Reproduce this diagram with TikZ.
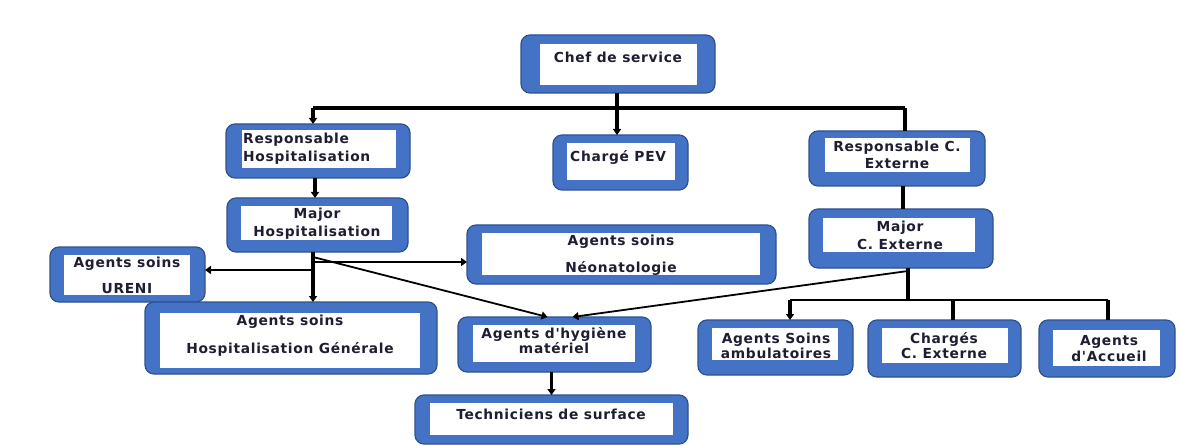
\documentclass[tikz,border=0pt]{standalone}
\usepackage{fontspec}
\setmainfont{DejaVu Sans}
\newfontfamily\boxfont{DejaVu Sans}[LetterSpace=5]
\usetikzlibrary{arrows.meta,calc}
\definecolor{boxblue}{HTML}{4472C4}
\definecolor{boxedge}{HTML}{2F528F}
\definecolor{txtc}{HTML}{1E1E32}
\newcommand\orgbox[9]{%
  \node[obox, minimum width={(#4)-(#2)}, minimum height={(#5)-(#3)}] (#1) at ({((#2)+(#4))/2},{((#3)+(#5))/2}) {};
  \node[ibox, minimum width={(#8)-(#6)}, minimum height={(#9)-(#7)}] (#1i) at ({((#6)+(#8))/2},{((#7)+(#9))/2}) {};
}
\newcommand\fs[1]{\boxfont\bfseries\fontsize{13.8}{#1}\selectfont}
\tikzset{
  obox/.style={draw=boxedge, line width=1.2pt, fill=boxblue, rounded corners=9pt, inner sep=0pt, outer sep=0pt},
  ibox/.style={fill=white, draw=none, inner sep=0pt, outer sep=0pt},
  lbl/.style={text=txtc, font=\fs{18}, inner sep=0pt, align=center},
  tip/.style={-{Triangle[length=6pt,width=8pt]}},
  heavy/.style={line width=4.5pt},
  medium/.style={line width=3.2pt},
  light/.style={line width=2.3pt},
  thinl/.style={line width=1.8pt},
}
\begin{document}
\begin{tikzpicture}[x=1pt,y=-1pt]
\useasboundingbox (0,0) rectangle (1182,446);
\fill[white] (0,0) rectangle (1182,446);

% boxes
\orgbox{chef}{521}{35}{715}{93}{540}{44}{697}{85}
\orgbox{rh}{226}{124}{410}{178}{242}{130}{396}{168}
\orgbox{pev}{553}{135}{688}{190}{567}{143}{675}{180}
\orgbox{rce}{809}{131}{985}{186}{825}{138}{970}{172}
\orgbox{mce}{809}{209}{993}{268}{823}{218}{975}{252}
\orgbox{mh}{227}{198}{408}{252}{241}{206}{392}{240}
\orgbox{ureni}{50}{247}{205}{302}{64}{255}{190}{295}
\orgbox{neo}{467}{225}{776}{284}{482}{233}{760}{275}
\orgbox{hg}{145}{302}{437}{374}{160}{313}{420}{368}
\orgbox{hyg}{458}{317}{651}{372}{473}{325}{635}{362}
\orgbox{tech}{415}{395}{688}{444}{430}{403}{673}{435}
\orgbox{amb}{698}{320}{853}{375}{712}{328}{838}{360}
\orgbox{chg}{868}{320}{1021}{377}{882}{328}{1008}{363}
\orgbox{acc}{1039}{320}{1175}{377}{1053}{330}{1160}{366}

% labels
\node[lbl] (tchef) at (618,57) {Chef de service};
\node[lbl, align=left, anchor=west] (trh) at (243,148.5) {Responsable\\Hospitalisation};
\node[lbl, anchor=west] (tpev) at (570,157) {Chargé PEV};
\node[lbl,font=\fs{17}] (trce) at (897,155) {Responsable C.\\Externe};
\node[lbl] (tmce) at (900,235.5) {Major\\C. Externe};
\node[lbl] (tmh) at (317,223.5) {Major\\Hospitalisation};
\node[lbl,font=\fs{26}] (tureni) at (127,275.5) {Agents soins\\URENI};
\node[lbl,font=\fs{27}] (tneo) at (621,255) {Agents soins\\Néonatologie};
\node[lbl,font=\fs{28}] (thg) at (290,335.5) {Agents soins\\Hospitalisation Générale};
\node[lbl,font=\fs{15}] (thyg) at (554,341) {Agents d'hygiène\\matériel};
\node[lbl] (ttech) at (551,414) {Techniciens de surface};
\node[lbl,font=\fs{15}] (tamb) at (776,346) {Agents Soins\\ambulatoires};
\node[lbl,font=\fs{15}] (tchg) at (944,346) {Chargés\\C. Externe};
\node[lbl,font=\fs{16}] (tacc) at (1109,348.5) {Agents\\d'Accueil};

% top tree
\coordinate (barL) at (313,108);
\coordinate (barR) at (905,108);
\coordinate (barM) at (617,108);
\draw[heavy] (chef.south -| barM) -- (barM);
\draw[heavy] (barL) -- (barR);
\draw[heavy,tip] (barL) -- (barL |- rh.north);
\draw[heavy,tip] (barM) -- (barM |- pev.north);
\draw[heavy] (barR) -- (barR |- rce.north);

\coordinate (rhx) at (315,0);
\draw[medium,tip] (rh.south -| rhx) -- (mh.north -| rhx);
\coordinate (rcex) at (903,0);
\draw[medium] (rce.south -| rcex) -- (mce.north -| rcex);

% from Major Hospitalisation
\coordinate (hub) at (313,252);
\coordinate (hu) at (313,270);
\coordinate (hn) at (313,262);
\coordinate (hd) at (313,257);
\draw[medium,tip] (hub) -- (hub |- hg.north);
\draw[light,tip] (hu) -- (hu -| ureni.east);
\draw[light,tip] (hn) -- (hn -| neo.west);
\draw[thinl,tip] (hd) -- ($(hyg.north)+(-7,0)$);

% from Major C. Externe
\coordinate (ch) at (908,268);
\coordinate (cb) at (908,300);
\coordinate (cbL) at (790,300);
\coordinate (cbM) at (953,300);
\coordinate (cbR) at (1108,300);
\coordinate (cd) at (908,271);
\draw[medium] (ch) -- (cb);
\draw[light] (cbL) -- (cbR);
\draw[medium,tip] (cbL) -- (cbL |- amb.north);
\draw[medium] (cbM) -- (cbM |- chg.north);
\draw[medium] (cbR) -- (cbR |- acc.north);
\draw[thinl,tip] (cd) -- ($(hyg.north)+(18,0)$);

% hygiene to technicians
\draw[medium,tip] (tech.north |- hyg.south) -- (tech.north);
\end{tikzpicture}
\end{document}
